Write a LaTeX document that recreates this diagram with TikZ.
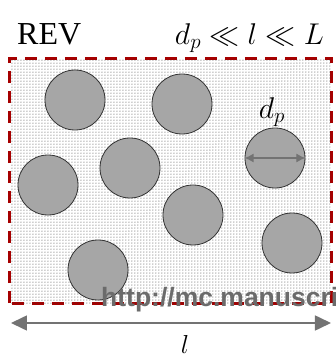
\RequirePackage{fix-cm}
\documentclass[tikz,border=0pt]{standalone}
\usepackage{amsmath}
\usepackage{amssymb}
\usepackage{fontspec}
\usepackage{tikz}
\usetikzlibrary{arrows.meta, positioning}
\usetikzlibrary{patterns}
\newfontfamily\wmfont{Liberation Sans}
\newfontfamily\revfont{Liberation Serif}

\begin{document}
\begin{tikzpicture}[
			x=1pt, y=1pt,
			grain/.style={circle, draw=black!80, fill=black!35, line width=0.8pt, minimum size=60pt, inner sep=0pt},
			rev/.style={draw=red!65!black, line width=3pt, dash pattern=on 12pt off 8pt, fill=white,
				postaction={pattern=dots, pattern color=black!80}},
			dim/.style={{Latex[length=9pt, width=9pt]}-{Latex[length=9pt, width=9pt]}, draw=black!55, fill=black!55, line width=1.2pt},
			span/.style={{Triangle[length=16pt, width=15pt]}-{Triangle[length=16pt, width=15pt]}, draw=black!55, fill=black!62, line width=1.6pt},
			big/.style={font=\fontsize{30}{36}\selectfont, inner sep=0pt}
			]
			\useasboundingbox (0,0) rectangle (336,360);
			
			% ---------------- VOLUME ----------------
			\coordinate (box1) at (10,57);
			\coordinate (box2) at (332,302);
			\draw[rev] (box1) rectangle (box2);
			
			% ---------------- GRAINS ----------------
			\node[grain] (p1) at (75,260) {};
			\node[grain] (p2) at (182,256) {};
			\node[grain] (p3) at (130,192) {};
			\node[grain] (p4) at (48,175) {};
			\node[grain] (p5) at (193,145) {};
			\node[grain] (p6) at (275,202) {};
			\node[grain] (p7) at (292,117) {};
			\node[grain] (p8) at (98,90) {};
			
			\draw[dim] (p6.west) -- (p6.east);
			\node[big] (dp) at (272,248) {$d_p$};
			
			% ---------------- LABELS ----------------
			\node[anchor=base west, inner sep=0pt, font=\revfont\fontsize{32}{38}\selectfont] (title) at (17,316) {REV};
			\node[big, anchor=base east] (scale) at (324,316) {$d_p \ll l \ll L$};
			
			% ---------------- SIZE ARROW ----------------
			\coordinate (s1) at (11,37);
			\coordinate (s2) at (331,37);
			\draw[span] (s1) -- (s2);
			\node[inner sep=0pt, font=\fontsize{26}{30}\selectfont] (len) at (185,16) {$l$};
			
			\node[anchor=base west, inner sep=0pt, text=black!58, font=\wmfont\bfseries\fontsize{26.5}{30}\selectfont] (wm) at (101,54) {http://mc.manuscri};
			
		\end{tikzpicture}
\end{document}
